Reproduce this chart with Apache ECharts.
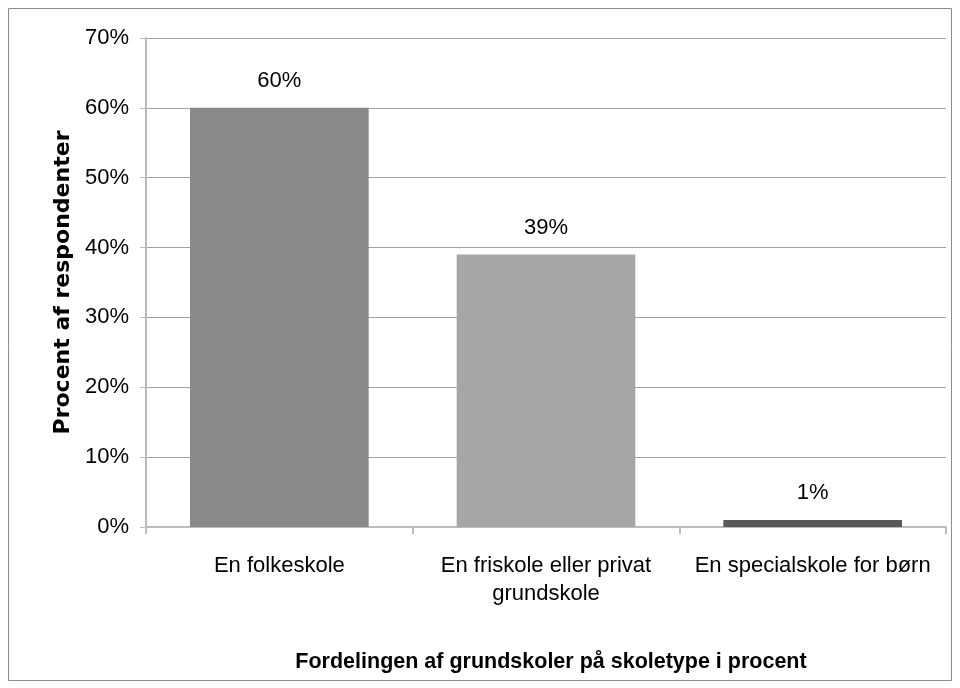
<!DOCTYPE html>
<html>
<head>
<meta charset="utf-8">
<script src="https://cdn.jsdelivr.net/npm/echarts@6/dist/echarts.min.js"></script>
<style>
  html, body { margin: 0; padding: 0; background: #fff; }
  #chart { width: 960px; height: 688px; }
</style>
</head>
<body>
<div id="chart"></div>
<script>
// skoletyper og andel af respondenter (%)
const categories = ['En folkeskole', 'En friskole eller privat\ngrundskole', 'En specialskole for børn'];
const values = [60, 39, 1];
const barColors = ['#898989', '#a6a6a6', '#595959'];
const yTicks = [0, 10, 20, 30, 40, 50, 60, 70];

const chart = echarts.init(document.getElementById('chart'), null, { renderer: 'canvas' });

const option = {
  animation: false,
  backgroundColor: '#fff',
  textStyle: { fontFamily: 'Liberation Sans, Arial, sans-serif' },
  graphic: [
    {
      type: 'rect',
      shape: { x: 8.5, y: 8.5, width: 943, height: 672 },
      style: { fill: 'none', stroke: '#8c8c8c', lineWidth: 1 },
      silent: true
    }
  ],
  title: {
    text: 'Fordelingen af grundskoler på skoletype i procent',
    left: 546,
    top: 646,
    textAlign: 'center',
    textStyle: { fontSize: 21.5, fontWeight: 'bold', color: '#000', fontFamily: 'Liberation Sans, Arial, sans-serif' }
  },
  grid: { left: 146, right: 14, top: 38, bottom: 161 },
  xAxis: {
    type: 'category',
    data: categories,
    axisLine: { lineStyle: { color: '#bcbcbc', width: 2 } },
    axisTick: { show: true, length: 7, lineStyle: { color: '#bcbcbc', width: 2 } },
    axisLabel: { interval: 0, hideOverlap: false, fontSize: 22, color: '#000', margin: 25, lineHeight: 28 }
  },
  yAxis: {
    type: 'value',
    min: yTicks[0],
    max: yTicks[yTicks.length - 1],
    interval: 10,
    name: 'Procent af respondenter',
    nameLocation: 'middle',
    nameGap: 72,
    nameTextStyle: { fontSize: 22, fontWeight: 'bold', color: '#000', fontFamily: 'DejaVu Sans' },
    axisLine: { show: true, lineStyle: { color: '#bcbcbc', width: 2 } },
    axisTick: { show: true, length: 6, lineStyle: { color: '#bcbcbc' } },
    axisLabel: { fontSize: 22, color: '#000', margin: 17, formatter: '{value}%' },
    splitLine: { lineStyle: { color: '#a3a3a3', width: 1 } }
  },
  series: [
    {
      type: 'bar',
      barCategoryGap: '33%',
      data: values.map((v, i) => ({ value: v, itemStyle: { color: barColors[i] } })),
      label: {
        show: true,
        position: 'top',
        distance: 16,
        fontSize: 22,
        color: '#000',
        formatter: '{c}%'
      }
    }
  ]
};

chart.setOption(option);
</script>
</body>
</html>
